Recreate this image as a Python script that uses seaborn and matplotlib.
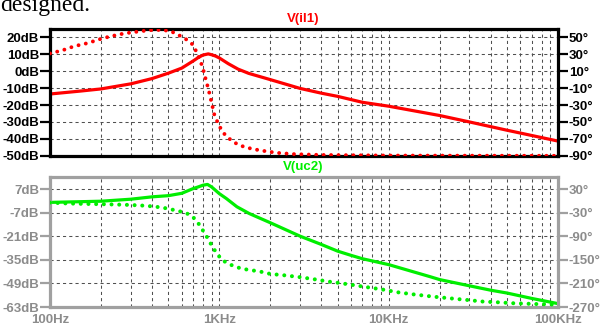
import matplotlib
matplotlib.use("Agg")
import matplotlib.pyplot as plt
from matplotlib.ticker import FixedLocator, FixedFormatter, NullFormatter, NullLocator
import seaborn as sns

# ---- V(il1): magnitude (dB) and phase (deg) ----
il1_mag_freq = [100, 150, 200, 300, 400, 500, 600, 700, 750, 800, 860, 900, 950,
                1000, 1130, 1290, 1490, 2000, 3000, 4000, 5000, 7000, 10000,
                20000, 30000, 50000, 100000]
il1_mag_db = [-13.5, -11.8, -10.5, -7.5, -4.4, -1.2, 1.8, 6.0, 8.0, 9.5, 10.2, 9.7, 8.9,
              7.8, 4.4, 1.2, -1.3, -5.0, -10.2, -13.0, -14.9, -18.4, -20.7,
              -26.2, -30.0, -34.9, -41.3]

il1_ph_freq = [100, 110, 120, 137, 150, 166, 183, 206, 228, 251, 278, 315, 345, 381,
               417, 474, 524, 573, 628, 697, 736, 795, 832, 863, 895, 936, 1000,
               1069, 1187, 1316, 1455, 1593, 1825, 2187, 2743, 4000, 10000, 100000]
il1_ph_deg = [30.9, 33.0, 35.0, 39.0, 41.0, 43.0, 45.7, 49.0, 51.0, 53.0, 54.7, 56.2,
              57.2, 58.2, 58.8, 58.4, 56.6, 52.8, 48.5, 41.4, 32.0, 15.5, 0.0, -11.6,
              -25.0, -42.0, -55.0, -64.0, -72.6, -77.6, -80.3, -82.2, -84.2, -86.5,
              -88.0, -89.0, -89.7, -90.0]

# ---- V(uc2): magnitude (dB) and phase (deg) ----
uc2_mag_freq = [100, 200, 300, 400, 500, 600, 700, 750, 800, 851, 900, 1000, 1100,
                1270, 1500, 2000, 3000, 4000, 5000, 6000, 7000, 10000, 17600,
                20000, 30000, 40000, 50000, 70000, 100000]
uc2_mag_db = [-0.8, -0.1, 1.1, 2.5, 3.2, 4.6, 7.4, 8.4, 9.4, 9.9, 8.4, 4.4, 1.5,
              -3.4, -7.4, -12.9, -20.9, -25.8, -29.8, -32.3, -34.3, -37.8, -45.0,
              -46.7, -50.4, -53.0, -54.7, -57.9, -61.0]

uc2_ph_freq = [100, 125, 150, 200, 250, 300, 350, 400, 450, 500, 524, 573, 628, 697,
               752, 808, 827, 875, 920, 991, 1013, 1085, 1187, 1316, 1455, 1593,
               1825, 1996, 2393, 2939, 3600, 4500, 5000, 6000, 7600, 9100, 11400,
               14000, 18400, 24200, 29100, 36300, 44100, 55000, 73000, 100000]
uc2_ph_deg = [-4.0, -6.0, -7.0, -8.0, -9.0, -10.0, -11.5, -13.5, -16.0, -19.5, -21.5,
              -25.6, -29.1, -40.0, -56.9, -77.9, -84.7, -103.1, -120.0, -139.2,
              -145.3, -155.4, -163.7, -170.6, -174.6, -177.1, -181.4, -185.7,
              -189.0, -193.5, -199.0, -205.7, -208.2, -213.2, -220.1, -225.1,
              -232.7, -237.8, -243.7, -248.8, -252.1, -256.3, -258.0, -260.5,
              -262.3, -264.0]

# ---- axis ticks ----
top_db_ticks = [20, 10, 0, -10, -20, -30, -40, -50]
top_deg_ticks = [50, 30, 10, -10, -30, -50, -70, -90]
bot_db_ticks = [7, -7, -21, -35, -49, -63]
bot_deg_ticks = [30, -30, -90, -150, -210, -270]
freq_ticks = [100, 1000, 10000, 100000]
freq_labels = ["100Hz", "1KHz", "10KHz", "100KHz"]
minor_freqs = [m * d for d in (100, 1000, 10000) for m in range(2, 10)]

sns.set_style("white")
plt.rcParams["font.family"] = ["Liberation Sans", "DejaVu Sans"]
plt.rcParams["font.weight"] = "bold"
plt.rcParams["lines.scale_dashes"] = True

RED = "#ff0000"
GREEN = "#00ee00"
GRAY = "#a0a0a0"
GRAY_TXT = "#8c8c8c"
GRID = "#505050"
FS = 9.5

W, H = 601, 329
fig = plt.figure(figsize=(W / 100, H / 100), dpi=100)
fig.patch.set_facecolor("white")

ax_top = fig.add_axes([50 / W, 1 - 155.8 / H, 508 / W, (155.8 - 29) / H])
ax_bot = fig.add_axes([50 / W, 1 - 307 / H, 508 / W, (307 - 177) / H])
for a in (ax_top, ax_bot):
    a.set_xscale("log")
    a.set_xlim(100, 100000)
tw_top = ax_top.twinx()
tw_bot = ax_bot.twinx()

# round dots about 3.5 px across, one every ~7.5 px along the trace
dot_style = dict(linestyle=(0, (0.01, 1.9)), dash_capstyle="round",
                 solid_capstyle="round")

# magnitude traces: solid, left axis
sns.lineplot(x=il1_mag_freq, y=il1_mag_db, ax=ax_top, color=RED, linewidth=2.3,
             estimator=None, sort=False)
sns.lineplot(x=uc2_mag_freq, y=uc2_mag_db, ax=ax_bot, color=GREEN, linewidth=2.3,
             estimator=None, sort=False)
# phase traces: dotted, right axis
sns.lineplot(x=il1_ph_freq, y=il1_ph_deg, ax=tw_top, color=RED, linewidth=2.8,
             estimator=None, sort=False, **dot_style)
sns.lineplot(x=uc2_ph_freq, y=uc2_ph_deg, ax=tw_bot, color=GREEN, linewidth=2.9,
             estimator=None, sort=False, **dot_style)


def style_panel(ax, tw, frame_color, text_color, db_ticks, db_lim, deg_ticks,
                deg_lim, show_x):
    ax.set_xlim(100, 100000)
    ax.set_ylim(*db_lim)
    ax.yaxis.set_major_locator(FixedLocator(db_ticks))
    ax.yaxis.set_major_formatter(FixedFormatter([f"{v}dB" for v in db_ticks]))
    ax.yaxis.set_minor_locator(NullLocator())
    ax.xaxis.set_major_locator(FixedLocator(freq_ticks))
    ax.xaxis.set_minor_locator(FixedLocator(minor_freqs))
    ax.xaxis.set_minor_formatter(NullFormatter())
    if show_x:
        ax.xaxis.set_major_formatter(FixedFormatter(freq_labels))
        ax.tick_params(axis="x", which="major", length=3.5, width=1.5,
                       color=frame_color, labelcolor=text_color, labelsize=FS,
                       pad=1.2)
        ax.tick_params(axis="x", which="minor", length=2.5, width=1.5,
                       color=frame_color)
    else:
        ax.xaxis.set_major_formatter(NullFormatter())
        ax.tick_params(axis="x", which="both", length=0)
    ax.tick_params(axis="y", length=7.5, width=1.6, color=frame_color,
                   labelcolor=text_color, labelsize=FS, pad=0.3)
    for sp in ax.spines.values():
        sp.set_color(frame_color)
        sp.set_linewidth(2.3)
    ax.grid(True, which="both", axis="x", color=GRID, linewidth=0.75,
            linestyle=(0, (3, 3)))
    ax.grid(True, which="major", axis="y", color=GRID, linewidth=0.75,
            linestyle=(0, (3, 3)))
    ax.set_xlabel("")
    ax.set_ylabel("")

    tw.set_ylim(*deg_lim)
    tw.yaxis.set_major_locator(FixedLocator(deg_ticks))
    tw.yaxis.set_major_formatter(FixedFormatter([f"{v}°" for v in deg_ticks]))
    tw.yaxis.set_minor_locator(NullLocator())
    tw.tick_params(axis="y", length=7.5, width=1.6, color=frame_color,
                   labelcolor=text_color, labelsize=FS, pad=0.3)
    for sp in tw.spines.values():
        sp.set_visible(False)
    tw.grid(False)
    tw.set_xlabel("")
    tw.set_ylabel("")


style_panel(ax_top, tw_top, "black", "black", top_db_ticks, (-50, 24.9),
            top_deg_ticks, (-90, 59.8), show_x=False)
style_panel(ax_bot, tw_bot, GRAY, GRAY_TXT, bot_db_ticks, (-63, 14.3),
            bot_deg_ticks, (-270, 61.3), show_x=True)

# trace names above each panel
fig.text(303 / W, 1 - 19 / H, "V(il1)", color=RED, fontsize=FS,
         fontweight="bold", ha="center", va="center")
fig.text(303 / W, 1 - 167 / H, "V(uc2)", color=GREEN, fontsize=FS,
         fontweight="bold", ha="center", va="center")

# tail of the preceding paragraph, running off the top edge
fig.text(0.0, 1 - 10.5 / H, "designed.", fontsize=17, fontweight="normal",
         family=["Liberation Serif", "DejaVu Serif"], color="black",
         ha="left", va="baseline")

fig.savefig("out.png", dpi=100, facecolor="white")
